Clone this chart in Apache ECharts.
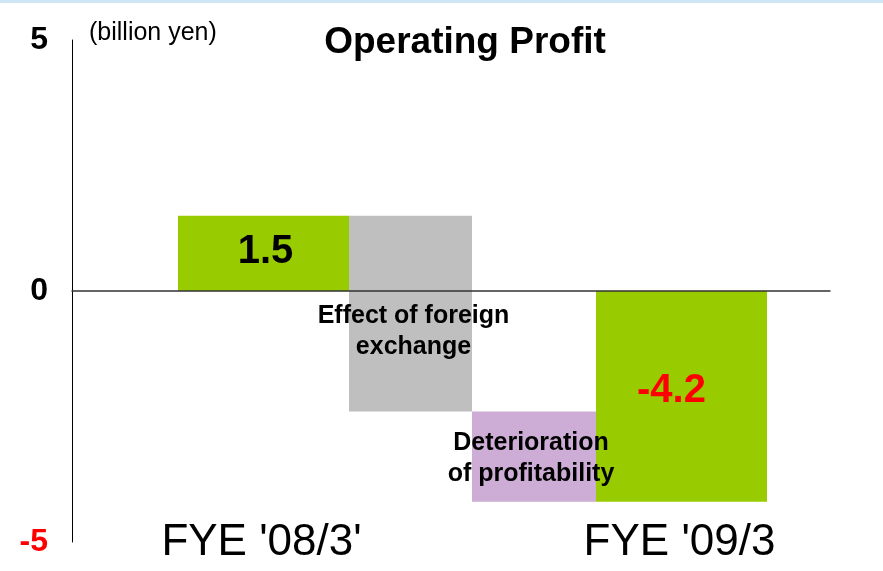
<!DOCTYPE html>
<html>
<head>
<meta charset="utf-8">
<script src="https://cdn.jsdelivr.net/npm/echarts@6/dist/echarts.min.js"></script>
<style>
  html, body { margin: 0; padding: 0; background: #fff; }
  #chart { width: 883px; height: 571px; }
</style>
</head>
<body>
<div id="chart"></div>
<script>
// waterfall data (billion yen)
const categories = ["FYE '08/3'", 'Effect of foreign\nexchange', 'Deterioration\nof profitability', "FYE '09/3"];
const changes = [1.5, -3.9, -1.8, -4.2];
const isTotal = [true, false, false, true];
const valueLabels = ['1.5', '', '', '-4.2'];
const yMin = -5;
const yMax = 5;
const yInterval = 5;

const FONT = '"Liberation Sans", Arial, sans-serif';
const colors = ['#99CC00', '#BFBFBF', '#CDADD6', '#99CC00'];
const colWidths = [171, 123, 124, 171];
const firstColOffset = 106;
// label nudges, px
const labelShift = [[2, -1], [3, 18], [-3, 2], [-10, -5]];

// build [index, from, to] rows
let running = 0;
const rows = changes.map((v, i) => {
  let from, to;
  if (isTotal[i]) {
    from = 0; to = v; running = v;
  } else {
    from = running; to = running + v; running = to;
  }
  return [i, from, to];
});

function renderItem(params, api) {
  const i = api.value(0);
  const p1 = api.coord([i, api.value(1)]);
  const p2 = api.coord([i, api.value(2)]);
  const cs = params.coordSys;
  let x0 = cs.x + firstColOffset;
  for (let k = 0; k < i; k++) x0 += colWidths[k];
  const w = colWidths[i];
  const top = Math.min(p1[1], p2[1]);
  const h = Math.abs(p1[1] - p2[1]);
  const cx = x0 + w / 2;
  const children = [{
    type: 'rect',
    shape: { x: x0, y: top, width: w, height: h },
    style: { fill: colors[i] }
  }];
  const sh = labelShift[i];
  if (isTotal[i]) {
    children.push({
      type: 'text',
      z2: 10,
      style: {
        x: cx + sh[0], y: top + h / 2 + sh[1],
        text: valueLabels[i],
        fill: changes[i] < 0 ? '#FF0000' : '#000',
        font: 'bold 40px ' + FONT,
        align: 'center', verticalAlign: 'middle'
      }
    });
    const bottom = api.coord([i, yMin])[1];
    children.push({
      type: 'text',
      z2: 10,
      style: {
        x: cx - 2, y: bottom + 1,
        text: categories[i],
        fill: '#000',
        font: '44px ' + FONT,
        align: 'center', verticalAlign: 'middle'
      }
    });
  } else {
    children.push({
      type: 'text',
      z2: 10,
      style: {
        x: cx + sh[0], y: top + h / 2 + sh[1],
        text: categories[i],
        fill: '#000',
        font: 'bold 25px ' + FONT,
        lineHeight: 31,
        align: 'center', verticalAlign: 'middle'
      }
    });
  }
  return { type: 'group', children: children };
}

const option = {
  animation: false,
  backgroundColor: '#fff',
  grid: { left: 72, right: 53, top: 40, bottom: 29 },
  graphic: [
    {
      type: 'rect',
      left: 0, top: 0,
      shape: { width: 883, height: 3 },
      style: { fill: '#CFE6F4' }
    },
    {
      type: 'text',
      left: 89, top: 21,
      style: { text: '(billion yen)', font: '25px ' + FONT, fill: '#000' }
    },
    {
      type: 'text',
      x: 465, y: 24,
      style: {
        text: 'Operating Profit',
        font: 'bold 37px ' + FONT,
        fill: '#000',
        align: 'center',
        verticalAlign: 'top'
      }
    }
  ],
  xAxis: {
    type: 'category',
    data: categories,
    z: 5,
    axisLine: { onZero: true, lineStyle: { color: '#333', width: 1.5 } },
    axisTick: { show: false },
    axisLabel: { show: false },
    splitLine: { show: false }
  },
  yAxis: {
    type: 'value',
    min: yMin,
    max: yMax,
    interval: yInterval,
    axisLine: { show: true, lineStyle: { color: '#000', width: 1 } },
    axisTick: { show: false },
    splitLine: { show: false },
    axisLabel: {
      margin: 24,
      padding: [8, 0, 0, 0],
      fontFamily: FONT,
      fontSize: 32,
      fontWeight: 'bold',
      color: v => (v < 0 ? '#FF0000' : '#000')
    }
  },
  series: [{
    type: 'custom',
    renderItem: renderItem,
    encode: { x: 0, y: [1, 2] },
    clip: false,
    data: rows
  }]
};

const myChart = echarts.init(document.getElementById('chart'));
myChart.setOption(option);
</script>
</body>
</html>
